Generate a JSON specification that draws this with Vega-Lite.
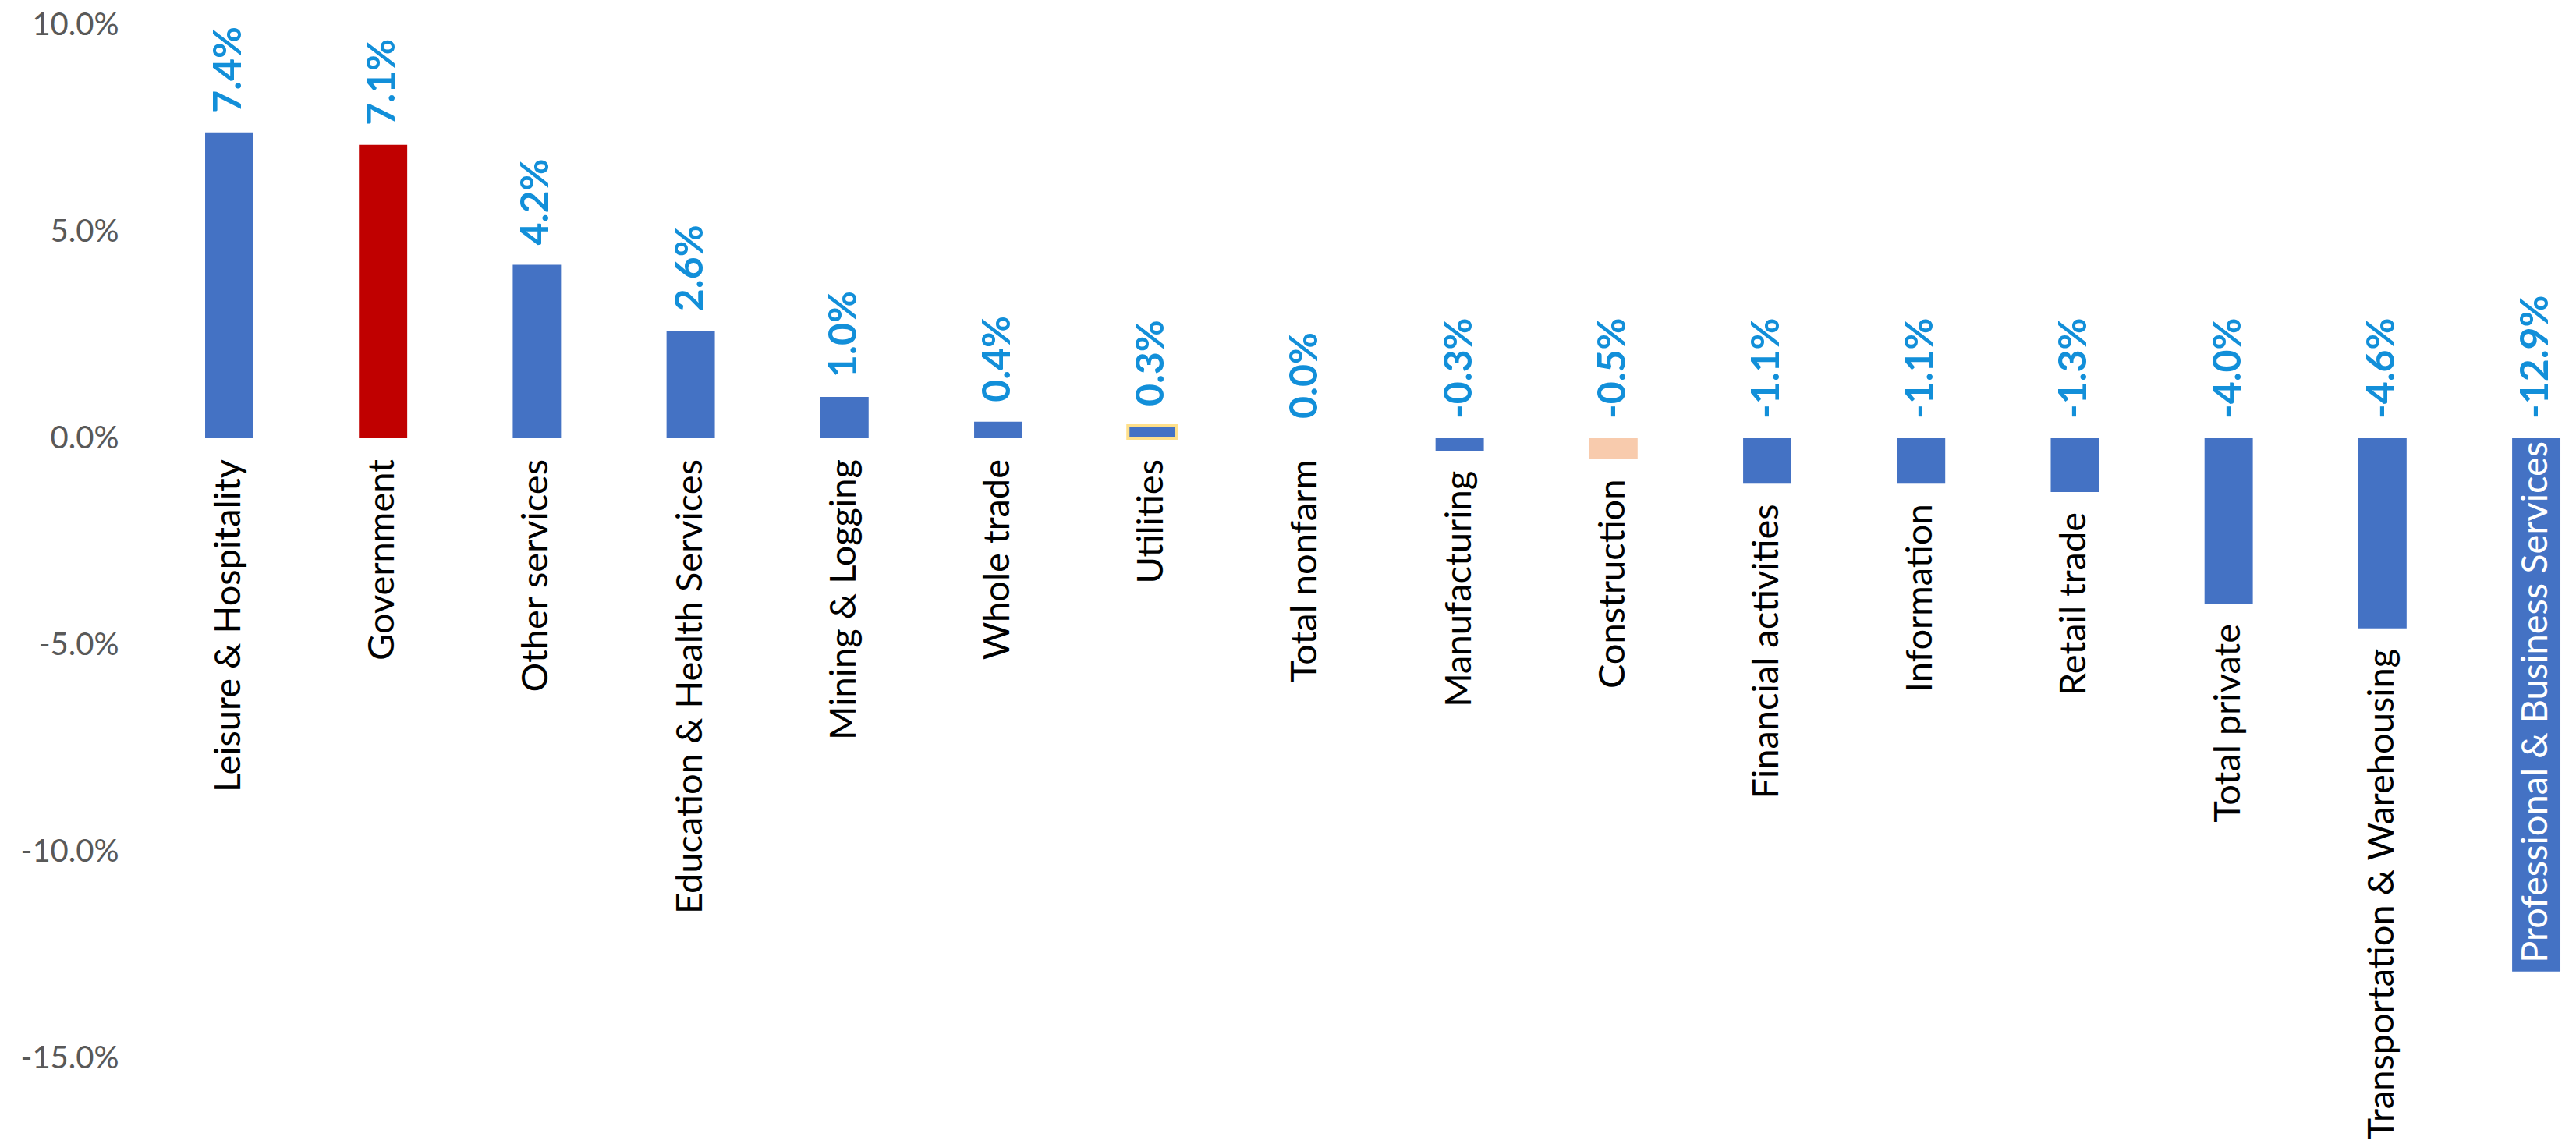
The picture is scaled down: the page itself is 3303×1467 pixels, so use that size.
{
  "$schema": "https://vega.github.io/schema/vega-lite/v6.json",
  "width": 3094,
  "height": 1378,
  "autosize": {"type": "none"},
  "padding": {"left": 209, "top": 32, "right": 0, "bottom": 57},
  "background": "white",
  "config": {
    "view": {"stroke": null},
    "locale": {"number": {"decimal": ".", "thousands": ",", "grouping": [3], "currency": ["$", ""], "minus": "-"}},
    "font": "Lato"
  },
  "data": {
    "values": [
      {"name": "Leisure & Hospitality", "value": 0.074},
      {"name": "Government", "value": 0.071},
      {"name": "Other services", "value": 0.042},
      {"name": "Education & Health Services", "value": 0.026},
      {"name": "Mining & Logging", "value": 0.010},
      {"name": "Whole trade", "value": 0.004},
      {"name": "Utilities", "value": 0.003},
      {"name": "Total nonfarm", "value": 0.0},
      {"name": "Manufacturing", "value": -0.003},
      {"name": "Construction", "value": -0.005},
      {"name": "Financial activities", "value": -0.011},
      {"name": "Information", "value": -0.011},
      {"name": "Retail trade", "value": -0.013},
      {"name": "Total private", "value": -0.040},
      {"name": "Transportation & Warehousing", "value": -0.046},
      {"name": "Professional & Business Services", "value": -0.129}
    ]
  },
  "encoding": {
    "x": {
      "field": "name", "type": "nominal", "sort": null,
      "scale": {"paddingInner": 0.686, "paddingOuter": 0.1876, "align": 0.73},
      "axis": null
    }
  },
  "layer": [
    {
      "mark": {"type": "bar", "strokeWidth": 4},
      "encoding": {
        "y": {
          "field": "value", "type": "quantitative",
          "scale": {"domain": [-0.16, 0.10], "nice": false, "zero": false},
          "axis": {
            "values": [-0.15, -0.10, -0.05, 0, 0.05, 0.10],
            "format": ".1%",
            "title": null,
            "grid": false,
            "domain": false,
            "ticks": false,
            "labelPadding": 57,
            "labelFontSize": 40,
            "labelFont": "Lato",
            "labelColor": "#595959"
          }
        },
        "y2": {"datum": 0},
        "fill": {
          "condition": [
            {"test": "datum.name === 'Government'", "value": "#C00000"},
            {"test": "datum.name === 'Construction'", "value": "#F8CBAD"}
          ],
          "value": "#4472C4"
        },
        "stroke": {
          "condition": {"test": "datum.name === 'Utilities'", "value": "#FFE08A"},
          "value": null
        }
      }
    },
    {
      "mark": {"type": "rule", "color": "#D9D9D9", "strokeWidth": 3},
      "encoding": {"y": {"datum": 0}}
    },
    {
      "transform": [{"filter": "datum.value > 0"}],
      "mark": {"type": "text", "angle": -90, "align": "left", "baseline": "middle", "dx": 25, "fontSize": 50, "fontWeight": "bold", "color": "#128FD9", "font": "Lato"},
      "encoding": {
        "y": {"field": "value", "type": "quantitative"},
        "text": {"field": "value", "type": "quantitative", "format": ".1%"}
      }
    },
    {
      "transform": [{"filter": "datum.value <= 0"}],
      "mark": {"type": "text", "angle": -90, "align": "left", "baseline": "middle", "dx": 25, "fontSize": 50, "fontWeight": "bold", "color": "#128FD9", "font": "Lato"},
      "encoding": {
        "y": {"datum": 0},
        "text": {"field": "value", "type": "quantitative", "format": ".1%"}
      }
    },
    {
      "transform": [{"filter": "datum.value >= 0"}],
      "mark": {"type": "text", "angle": -90, "align": "right", "baseline": "middle", "dx": -27, "fontSize": 47, "color": "#000000", "font": "Lato"},
      "encoding": {
        "y": {"datum": 0},
        "text": {"field": "name", "type": "nominal"}
      }
    },
    {
      "transform": [{"filter": "datum.value < 0 && datum.name !== 'Professional & Business Services'"}],
      "mark": {"type": "text", "angle": -90, "align": "right", "baseline": "middle", "dx": -26, "fontSize": 47, "color": "#000000", "font": "Lato"},
      "encoding": {
        "y": {"field": "value", "type": "quantitative"},
        "text": {"field": "name", "type": "nominal"}
      }
    },
    {
      "transform": [{"filter": "datum.name === 'Professional & Business Services'"}],
      "mark": {"type": "text", "angle": -90, "align": "left", "baseline": "middle", "dx": 11, "fontSize": 47, "color": "#FFFFFF", "font": "Lato"},
      "encoding": {
        "y": {"field": "value", "type": "quantitative"},
        "text": {"field": "name", "type": "nominal"}
      }
    }
  ]
}
